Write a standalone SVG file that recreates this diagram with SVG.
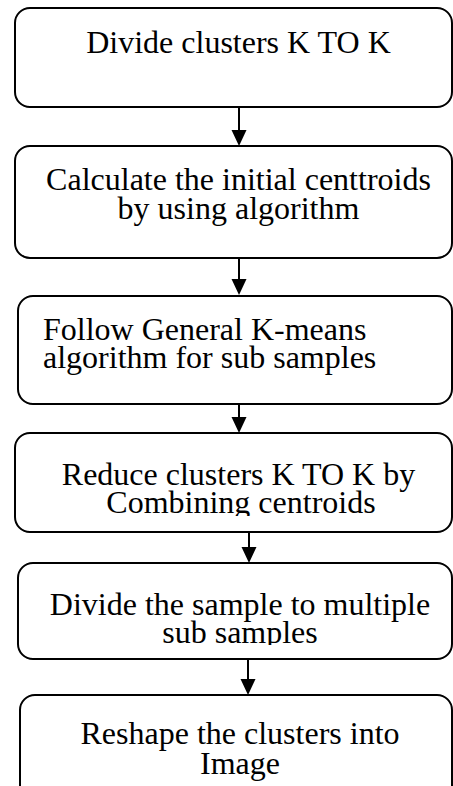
<svg xmlns="http://www.w3.org/2000/svg" width="453" height="786" viewBox="0 0 453 786">
<style>
.box{fill:#fff;stroke:#000;stroke-width:2}
.t{font-family:"Times New Roman","Liberation Serif","DejaVu Serif",serif;font-size:32px;fill:#000}
.c{text-anchor:middle}
.conn line{stroke:#000;stroke-width:2}
.conn path{fill:#000;stroke:none}
</style>
<defs>
<clipPath id="c4"><rect x="0" y="420" width="453" height="96"/></clipPath>
<clipPath id="c5"><rect x="0" y="550" width="453" height="95"/></clipPath>
<clipPath id="c6"><rect x="0" y="690" width="453" height="91"/></clipPath>
</defs>
<rect width="453" height="786" fill="#fff"/>
<g id="n1">
<rect class="box" x="15" y="8" width="437" height="99" rx="15"/>
<text class="t c" x="238.5" y="53">Divide clusters K TO K</text>
</g>
<g id="n2">
<rect class="box" x="15" y="146" width="437" height="112" rx="15"/>
<text class="t c" x="238.5" y="190">Calculate the initial centtroids</text>
<text class="t c" x="238.5" y="219">by using algorithm</text>
</g>
<g id="n3">
<rect class="box" x="18" y="296" width="434" height="108" rx="15"/>
<text class="t" x="43" y="340">Follow General K-means</text>
<text class="t" x="43" y="368">algorithm for sub samples</text>
</g>
<g id="n4">
<rect class="box" x="15" y="433" width="437" height="99" rx="15"/>
<g clip-path="url(#c4)">
<text class="t c" x="238.5" y="485">Reduce clusters K TO K by</text>
<text class="t c" x="241" y="513">Combining centroids</text>
</g>
</g>
<g id="n5">
<rect class="box" x="18" y="563" width="434" height="96" rx="15"/>
<g clip-path="url(#c5)">
<text class="t c" x="240" y="615">Divide the sample to multiple</text>
<text class="t c" x="240" y="643">sub samples</text>
</g>
</g>
<g id="n6">
<rect class="box" x="20" y="695" width="432" height="110" rx="15"/>
<g clip-path="url(#c6)">
<text class="t c" x="240" y="744">Reshape the clusters into</text>
<text class="t c" x="240" y="774">Image</text>
</g>
</g>
<g id="connectors" class="conn">
<line x1="239" y1="107" x2="239" y2="131"/>
<path d="M231.5,130 L246.5,130 L239,146 z"/>
<line x1="239" y1="258" x2="239" y2="280"/>
<path d="M231.5,279 L246.5,279 L239,295 z"/>
<line x1="239" y1="404" x2="239" y2="418"/>
<path d="M231.5,417 L246.5,417 L239,433 z"/>
<line x1="249" y1="532" x2="249" y2="548"/>
<path d="M241.5,547 L256.5,547 L249,563 z"/>
<line x1="248" y1="659" x2="248" y2="680"/>
<path d="M240.5,679 L255.5,679 L248,695 z"/>
</g>
</svg>
